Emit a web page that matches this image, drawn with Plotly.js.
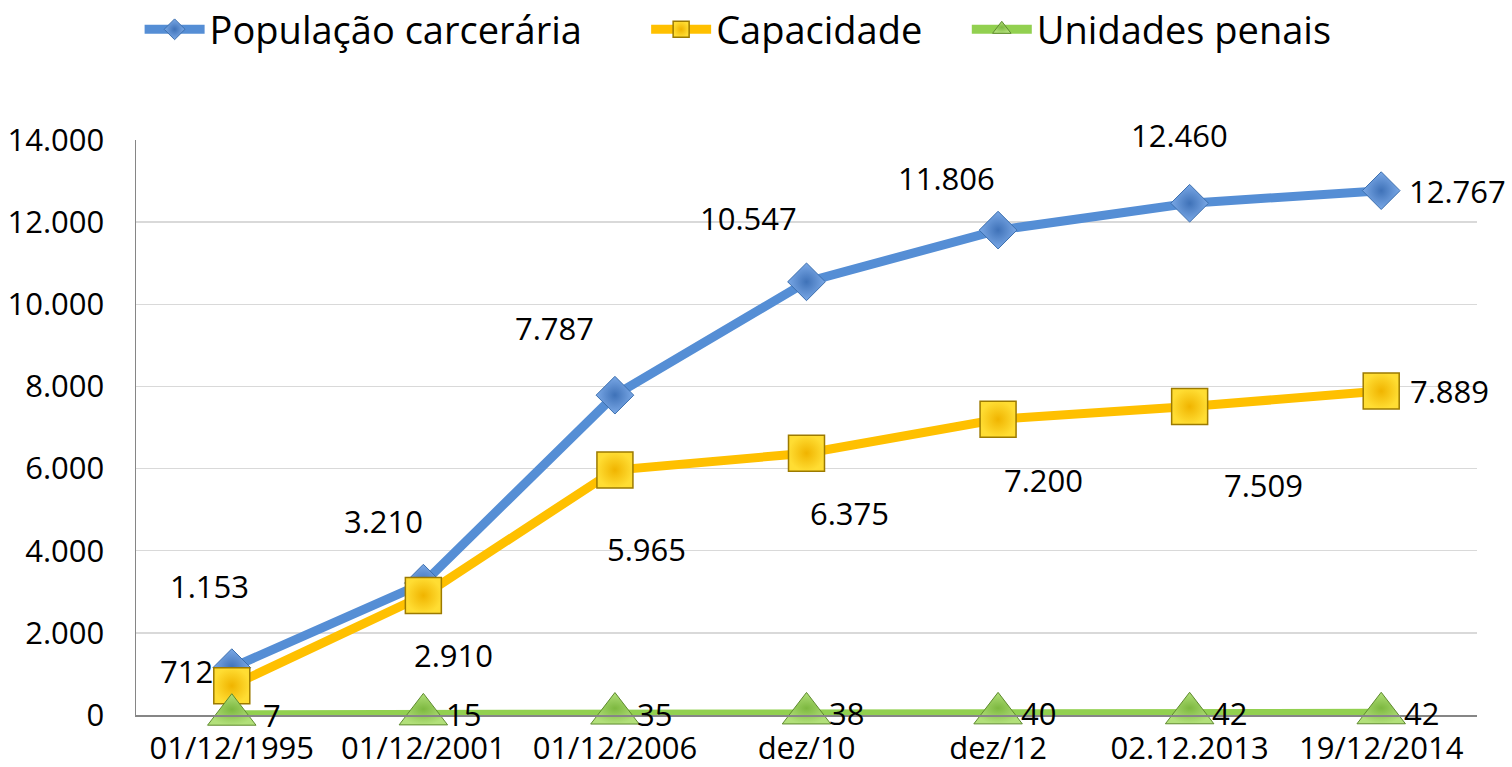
<!DOCTYPE html>
<html>
<head>
<meta charset="utf-8">
<script src="https://cdn.plot.ly/plotly-3.0.1.min.js"></script>
<style>html,body{margin:0;padding:0;background:#fff;}#chart{width:1512px;height:767px;}</style>
</head>
<body>
<div id="chart"></div>
<script>
const categories = ['01/12/1995','01/12/2001','01/12/2006','dez/10','dez/12','02.12.2013','19/12/2014'];
const populacao = [1153, 3210, 7787, 10547, 11806, 12460, 12767];
const capacidade = [712, 2910, 5965, 6375, 7200, 7509, 7889];
const unidades = [7, 15, 35, 38, 40, 42, 42];
const yTicks = [0, 2000, 4000, 6000, 8000, 10000, 12000, 14000];
const seriesNames = ['População carcerária', 'Capacidade', 'Unidades penais'];

function fmt(v){ return String(v).replace(/\B(?=(\d{3})+(?!\d))/g, '.'); }

// label offsets (px) per point
const popShift = [[-22,82],[-40,62],[-60,67],[-58,64],[-52,52],[-10,68],[76,0]];
const capShift = [[-45,15],[30,-60],[32,-79],[43,-60],[45,-61],[74,-78],[68,0]];
const uniShift = [[40,0],[40,0],[40,0],[40,0],[40,0],[40,0],[40,0]];

const FONT = '"Open Sans", "Noto Sans", sans-serif';
const annotations = [];
function addLabels(vals, shifts){
  vals.forEach((v,i)=>{
    annotations.push({x: categories[i], y: v, xref:'x', yref:'y', text: fmt(v), showarrow:false,
      xshift: shifts[i][0], yshift: shifts[i][1], font:{size:31, color:'#000', family:FONT}});
  });
}
addLabels(populacao, popShift);
addLabels(capacidade, capShift);
addLabels(unidades, uniShift);

const nb = n => '\u00A0'.repeat(n);
const traces = [
  {x: categories, y: populacao, name: seriesNames[0] + nb(6), type:'scatter', mode:'lines+markers',
   line:{color:'#558ED5', width:9}, marker:{symbol:'diamond', size:29, color:'#7AA8E6', gradient:{type:'radial', color:'#3F72B8'}, line:{color:'#3C6FAE', width:1}}, cliponaxis:false},
  {x: categories, y: capacidade, name: seriesNames[1] + nb(4), type:'scatter', mode:'lines+markers',
   line:{color:'#FFC000', width:9}, marker:{symbol:'square', size:36, color:'#FFDD33', gradient:{type:'radial', color:'#F0B400'}, line:{color:'#9C7A00', width:1.5}}, cliponaxis:false},
  {x: categories, y: unidades, name: seriesNames[2], type:'scatter', mode:'lines+markers',
   line:{color:'#92D050', width:9}, marker:{symbol:'triangle-up', size:42, color:'#B2E07A', gradient:{type:'radial', color:'#7DB840'}, line:{color:'#5E8A2E', width:1}}, cliponaxis:false}
];

const layout = {
  width:1512, height:767,
  margin:{l:136, r:35, t:140, b:52, autoexpand:false},
  paper_bgcolor:'#fff', plot_bgcolor:'#fff',
  separators: ',.',
  font:{family:FONT, color:'#000'},
  showlegend:true,
  legend:{orientation:'h', x:0.449, xanchor:'center', y:1.192, yanchor:'middle', font:{size:38, family:FONT}, itemwidth:60, tracegroupgap:0},
  xaxis:{type:'category', range:[-0.5,6.5], showgrid:false, showline:true, linecolor:'#868686', linewidth:1.5,
    ticks:'', tickfont:{size:31, family:FONT}, zeroline:false, ticklabelstandoff:5},
  yaxis:{range:[0,14000], tickvals: yTicks, ticktext: yTicks.map(fmt), showgrid:true, gridcolor:'#D9D9D9', gridwidth:1.5,
    showline:true, linecolor:'#868686', linewidth:1.5, ticks:'', tickfont:{size:31, family:FONT}, zeroline:false, ticklabelstandoff:24},
  annotations: annotations
};

Plotly.newPlot('chart', traces, layout, {displayModeBar:false, staticPlot:true});
</script>
</body>
</html>
